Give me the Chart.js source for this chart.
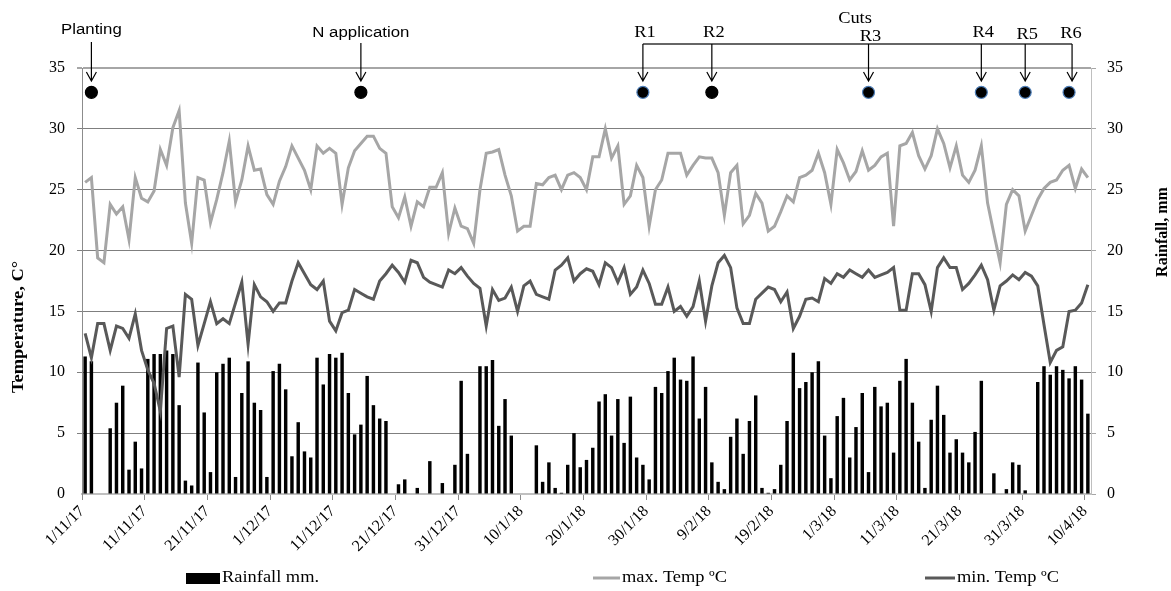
<!DOCTYPE html>
<html lang="en">
<head>
    <meta charset="UTF-8">
    <title>Temperature and rainfall, Nov 2017 - Apr 2018</title>
    <style>
        body { margin: 0; background: #fff; }
        #myChart { display: block; }
    </style>
    <script src="https://cdn.jsdelivr.net/npm/chart.js"></script>
</head>
<body>
    <canvas id="myChart" width="1171" height="591"></canvas>
    <script>
        // daily categories 1/11/17 .. 10/4/18 (161 days)
        const startDate = new Date(2017, 10, 1);
        const dayCount = 161;
        const days = [];
        for (let i = 0; i < dayCount; i++) {
            const d = new Date(startDate.getFullYear(), startDate.getMonth(), startDate.getDate() + i);
            days.push(d.getDate() + '/' + (d.getMonth() + 1) + '/' + String(d.getFullYear()).slice(2));
        }

        const tickLabels = ['1/11/17', '11/11/17', '21/11/17', '1/12/17', '11/12/17', '21/12/17', '31/12/17',
            '10/1/18', '20/1/18', '30/1/18', '9/2/18', '19/2/18', '1/3/18', '11/3/18', '21/3/18', '31/3/18', '10/4/18'];

        const rainfall = [
            11.3, 10.9, 0, 0, 5.4, 7.5, 8.9, 2.0, 4.3, 2.1,
            11.1, 11.5, 11.5, 11.8, 11.5, 7.3, 1.1, 0.7, 10.8, 6.7,
            1.8, 10.0, 10.7, 11.2, 1.4, 8.3, 10.9, 7.5, 6.9, 1.4,
            10.1, 10.7, 8.6, 3.1, 5.9, 3.5, 3.0, 11.2, 9.0, 11.5,
            11.2, 11.6, 8.3, 4.9, 5.7, 9.7, 7.3, 6.2, 6.0, 0,
            0.8, 1.2, 0, 0.5, 0, 2.7, 0, 0.9, 0, 2.4,
            9.3, 3.3, 0, 10.5, 10.5, 11.0, 5.6, 7.8, 4.8, 0,
            0, 0, 4.0, 1.0, 2.6, 0.5, 0.1, 2.4, 5.0, 2.2,
            2.8, 3.8, 7.6, 8.2, 4.8, 7.8, 4.2, 8.0, 3.0, 2.4,
            1.2, 8.8, 8.3, 10.1, 11.2, 9.4, 9.3, 11.3, 6.2, 8.8,
            2.6, 1.0, 0.4, 4.7, 6.2, 3.3, 6.0, 8.1, 0.5, 0.1,
            0.4, 2.4, 6.0, 11.6, 8.7, 9.2, 10.0, 10.9, 4.8, 1.3,
            6.4, 7.9, 3.0, 5.5, 8.3, 1.8, 8.8, 7.2, 7.5, 3.4,
            9.3, 11.1, 7.5, 4.3, 0.5, 6.1, 8.9, 6.5, 3.4, 4.5,
            3.4, 2.6, 5.1, 9.3, 0, 1.7, 0, 0.4, 2.6, 2.4,
            0.3, 0, 9.2, 10.5, 9.8, 10.5, 10.2, 9.5, 10.5, 9.4,
            6.6
        ];

        const maxTemp = [
            25.6, 26.0, 19.4, 19.0, 23.8, 23.0, 23.6, 20.9, 26.0, 24.3,
            24.0, 24.9, 28.3, 27.0, 30.1, 31.5, 23.9, 20.6, 26.0, 25.8,
            22.3, 24.2, 26.4, 29.0, 24.0, 25.8, 28.6, 26.6, 26.7, 24.6,
            23.8, 25.7, 26.9, 28.6, 27.6, 26.6, 25.0, 28.6, 28.0, 28.4,
            28.0, 23.8, 26.8, 28.2, 28.8, 29.4, 29.4, 28.4, 28.0, 23.6,
            22.7, 24.4, 22.0, 24.0, 23.6, 25.2, 25.2, 26.4, 21.4, 23.5,
            22.0, 21.8, 20.6, 25.0, 28.0, 28.1, 28.3, 26.2, 24.5, 21.6,
            22.0, 22.0, 25.5, 25.4, 26.0, 26.2, 25.0, 26.2, 26.4, 26.0,
            25.0, 27.7, 27.7, 30.0, 27.6, 28.6, 23.8, 24.5, 27.0, 26.0,
            22.0, 25.0, 25.8, 28.0, 28.0, 28.0, 26.2, 27.0, 27.7, 27.6,
            27.6, 26.4, 22.9, 26.4, 27.0, 22.2, 22.9, 24.7, 23.9, 21.6,
            22.0, 23.2, 24.5, 24.0, 26.0, 26.2, 26.6, 28.0, 26.4, 23.8,
            28.3, 27.2, 25.8, 26.5, 28.2, 26.6, 27.0, 27.7, 28.0, 22.0,
            28.6, 28.8, 29.7, 27.8, 26.7, 27.8, 30.0, 28.8, 26.8, 28.6,
            26.2, 25.6, 26.6, 28.6, 23.9, 21.4, 19.0, 23.8, 25.0, 24.5,
            21.6, 22.9, 24.2, 25.1, 25.6, 25.8, 26.6, 27.0, 25.1, 26.7,
            26.0
        ];

        const minTemp = [
            13.2, 11.2, 14.0, 14.0, 11.8, 13.8, 13.6, 12.8, 14.8, 11.8,
            10.2, 9.1, 6.8, 13.6, 13.8, 9.6, 16.4, 16.0, 12.2, 14.0,
            15.8, 14.0, 14.4, 14.0, 15.7, 17.4, 12.3, 17.2, 16.2, 15.8,
            15.0, 15.7, 15.7, 17.5, 19.0, 18.1, 17.2, 16.8, 17.5, 14.2,
            13.4, 14.9, 15.1, 16.8, 16.5, 16.2, 16.0, 17.5, 18.1, 18.8,
            18.2, 17.4, 19.2, 19.0, 17.8, 17.4, 17.2, 17.0, 18.4, 18.1,
            18.6, 17.9, 17.3, 16.9, 13.8, 16.8, 15.9, 16.1, 17.0, 15.0,
            17.1, 17.5, 16.4, 16.2, 16.0, 18.4, 18.8, 19.4, 17.5, 18.1,
            18.5, 18.3, 17.2, 19.0, 18.6, 17.4, 18.6, 16.4, 17.0, 18.4,
            17.3, 15.6, 15.6, 17.0, 15.0, 15.4, 14.6, 15.4, 17.5, 14.2,
            17.1, 19.0, 19.6, 18.6, 15.3, 14.0, 14.0, 16.0, 16.5, 17.0,
            16.8, 15.8, 16.6, 13.6, 14.6, 16.0, 16.1, 15.8, 17.7, 17.3,
            18.1, 17.8, 18.4, 18.1, 17.8, 18.4, 17.8, 18.0, 18.2, 18.6,
            15.1, 15.1, 18.1, 18.1, 17.2, 15.0, 18.6, 19.4, 18.6, 18.6,
            16.8, 17.3, 18.0, 18.8, 17.6, 15.1, 17.1, 17.5, 18.0, 17.6,
            18.2, 17.9, 17.1, 13.9, 10.8, 11.8, 12.1, 15.0, 15.1, 15.7,
            17.2
        ];

        // field events (dots drawn at 33 on the temperature axis)
        const eventNames = ['Planting', 'N application', 'R1', 'R2', 'R3', 'R4', 'R5', 'R6'];
        const eventDays = ['2/11/17', '15/12/17', '29/1/18', '9/2/18', '6/3/18', '24/3/18', '31/3/18', '7/4/18'];
        const eventLevel = 33;
        const eventRing = [false, false, true, false, true, true, true, true];

        const eventData = days.map(d => eventDays.includes(d) ? eventLevel : null);
        const eventBorder = days.map(d => {
            const k = eventDays.indexOf(d);
            return k >= 0 && eventRing[k] ? '#4f7fb8' : '#000000';
        });

        const serif = '"Liberation Serif", "Times New Roman", serif';
        const sans = '"Liberation Sans", Arial, sans-serif';

        function stretchText(ctx, txt, x, y, font, sx, rot, align) {
            ctx.save();
            ctx.translate(x, y);
            if (rot) ctx.rotate(rot);
            ctx.scale(sx, 1);
            ctx.font = font;
            ctx.fillStyle = '#000';
            ctx.textAlign = align || 'center';
            ctx.textBaseline = 'middle';
            ctx.fillText(txt, 0, 0);
            ctx.restore();
        }

        function arrow(ctx, x, y0, y1) {
            ctx.beginPath();
            ctx.moveTo(x, y0);
            ctx.lineTo(x, y1);
            ctx.moveTo(x - 5, y1 - 9);
            ctx.lineTo(x, y1);
            ctx.lineTo(x + 5, y1 - 9);
            ctx.stroke();
        }

        // arrows, labels, axis titles and legend
        const decorations = {
            id: 'decorations',
            afterDraw(chart) {
                const ctx = chart.ctx;
                const xs = chart.scales.x;
                const px = k => xs.getPixelForValue(days.indexOf(eventDays[k]));

                ctx.save();
                ctx.strokeStyle = '#000';
                ctx.lineWidth = 1.2;

                // planting + N application
                stretchText(ctx, eventNames[0], px(0), 30, '14px ' + sans, 1.2);
                arrow(ctx, px(0), 42, 81);
                stretchText(ctx, eventNames[1], px(1), 33, '14px ' + sans, 1.2);
                arrow(ctx, px(1), 43, 81);

                // cuts bracket
                ctx.strokeStyle = '#333';
                ctx.lineWidth = 1.5;
                ctx.beginPath();
                ctx.moveTo(px(2), 44);
                ctx.lineTo(px(7) + 3, 44);
                ctx.stroke();
                ctx.strokeStyle = '#000';
                ctx.lineWidth = 1.2;
                const rY = [33, 33, 37, 33, 35, 34];
                for (let k = 2; k < 8; k++) {
                    stretchText(ctx, eventNames[k], px(k) + 2, rY[k - 2], '16px ' + serif, 1.15);
                    arrow(ctx, k === 7 ? px(k) + 3 : px(k), 44, 81);
                }
                stretchText(ctx, 'Cuts', 855, 19, '16px ' + serif, 1.15);

                // axis titles
                stretchText(ctx, 'Temperature, C°', 19, 327, 'bold 16px ' + serif, 1.15, -Math.PI / 2);
                stretchText(ctx, 'Rainfall, mm', 1163, 232, 'bold 16px ' + serif, 1.0, -Math.PI / 2);

                // legend
                const ds = chart.data.datasets;
                const ly = 578;
                ctx.fillStyle = ds[0].backgroundColor;
                ctx.fillRect(186, ly - 5, 34, 11);
                stretchText(ctx, ds[0].label, 222, ly, '16px ' + serif, 1.15, 0, 'left');
                ctx.lineWidth = 3;
                ctx.strokeStyle = ds[1].borderColor;
                ctx.beginPath(); ctx.moveTo(593, ly); ctx.lineTo(620, ly); ctx.stroke();
                stretchText(ctx, ds[1].label, 622, ly, '16px ' + serif, 1.15, 0, 'left');
                ctx.strokeStyle = ds[2].borderColor;
                ctx.beginPath(); ctx.moveTo(925, ly); ctx.lineTo(955, ly); ctx.stroke();
                stretchText(ctx, ds[2].label, 957, ly, '16px ' + serif, 1.15, 0, 'left');
                ctx.restore();
            }
        };

        var ctx = document.getElementById('myChart').getContext('2d');
        var myChart = new Chart(ctx, {
            type: 'bar',
            data: {
                labels: days,
                datasets: [{
                    type: 'bar',
                    label: 'Rainfall mm.',
                    data: rainfall,
                    yAxisID: 'y1',
                    backgroundColor: '#000000',
                    barPercentage: 0.55,
                    categoryPercentage: 1,
                    order: 3
                }, {
                    type: 'line',
                    label: 'max. Temp ºC',
                    data: maxTemp,
                    yAxisID: 'y',
                    borderColor: '#a6a6a6',
                    borderWidth: 3,
                    pointRadius: 0,
                    tension: 0,
                    order: 2
                }, {
                    type: 'line',
                    label: 'min. Temp ºC',
                    data: minTemp,
                    yAxisID: 'y',
                    borderColor: '#595959',
                    borderWidth: 3,
                    pointRadius: 0,
                    tension: 0,
                    order: 1
                }, {
                    type: 'line',
                    label: 'events',
                    data: eventData,
                    yAxisID: 'y',
                    showLine: false,
                    pointRadius: 6,
                    pointBackgroundColor: '#000000',
                    pointBorderColor: eventBorder,
                    pointBorderWidth: 1.2,
                    order: 0
                }]
            },
            options: {
                responsive: false,
                animation: false,
                devicePixelRatio: 1,
                layout: { padding: { top: 68, left: 0, right: 0, bottom: 0 } },
                scales: {
                    x: {
                        offset: true,
                        grid: {
                            offset: true,
                            drawOnChartArea: false,
                            tickLength: 6,
                            color: c => (c.tick && tickLabels.includes(days[c.index])) ? '#8c8c8c' : 'rgba(0,0,0,0)'
                        },
                        border: { color: '#c0c0c0', width: 2 },
                        ticks: {
                            autoSkip: false,
                            maxRotation: 45,
                            minRotation: 45,
                            padding: 2,
                            labelOffset: -3,
                            color: '#000',
                            font: { family: serif, size: 16 },
                            callback: function(value) {
                                const lab = this.getLabelForValue(value);
                                return tickLabels.includes(lab) ? lab : '';
                            }
                        },
                        afterFit: s => { s.height = 97; }
                    },
                    y: {
                        position: 'left',
                        min: 0,
                        max: 35,
                        ticks: {
                            stepSize: 5,
                            padding: 12,
                            color: '#000',
                            font: { family: serif, size: 16 }
                        },
                        grid: {
                            tickLength: 5,
                            color: c => c.tick && c.tick.value === 35 ? '#a6a6a6' : (c.tick && c.tick.value === 0 ? 'rgba(0,0,0,0)' : '#7f7f7f'),
                            lineWidth: c => c.tick && c.tick.value === 35 ? 2 : 1
                        },
                        border: { color: '#8c8c8c' },
                        afterFit: s => { s.width = 82; }
                    },
                    y1: {
                        position: 'right',
                        min: 0,
                        max: 35,
                        ticks: {
                            stepSize: 5,
                            padding: 11,
                            color: '#000',
                            font: { family: serif, size: 16 }
                        },
                        grid: {
                            drawOnChartArea: false,
                            tickLength: 5,
                            color: '#a6a6a6'
                        },
                        border: { color: '#bfbfbf' },
                        afterFit: s => { s.width = 80; }
                    }
                },
                plugins: {
                    legend: { display: false },
                    tooltip: { enabled: false }
                }
            },
            plugins: [decorations]
        });
    </script>
</body>
</html>
